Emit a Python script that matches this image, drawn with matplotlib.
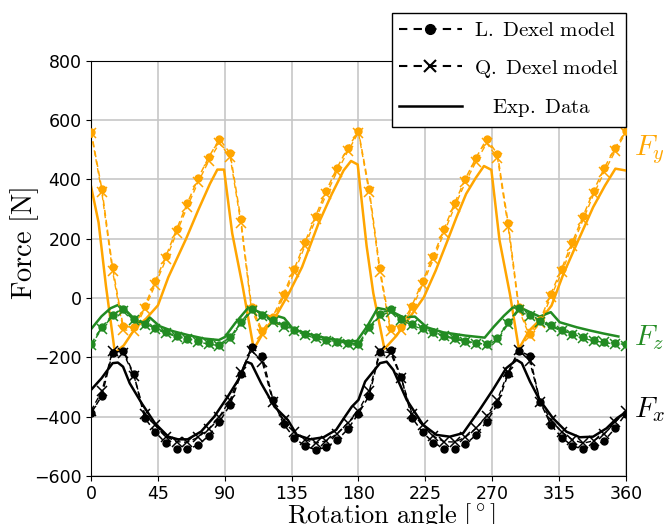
import numpy as np
import matplotlib
matplotlib.use("Agg")
import matplotlib.pyplot as plt
from matplotlib.lines import Line2D

plt.rcParams['mathtext.fontset'] = 'cm'

# ---------------- data ----------------
angle_model = np.linspace(0, 360, 51)   # 7.2 deg step

fy_L = [561, 368, 104, -96, -99, -28, 56, 141, 232, 320, 403, 475, 536,
        488, 266, -30, -110, -63, 14, 98, 188, 277, 362, 439, 506, 562,
        368, 100, -102, -98, -26, 56, 141, 232, 320, 402, 473, 537,
        485, 252, -30, -120, -74, 14, 98, 188, 275, 362, 439, 506, 562]
fy_Q = [558, 356, 92, -108, -110, -38, 45, 130, 220, 308, 390, 462, 522,
        476, 254, -40, -120, -73, 4, 86, 176, 265, 350, 426, 494, 558,
        356, 88, -112, -108, -36, 45, 130, 220, 308, 390, 460, 522,
        473, 240, -40, -128, -84, 4, 86, 176, 263, 350, 426, 494, 558]

fz_L = [-155, -99, -56, -37, -71, -88, -101, -116, -128, -137, -145, -153, -158,
        -133, -82, -37, -56, -76, -93, -108, -122, -133, -142, -147, -153, -155,
        -99, -55, -39, -71, -88, -102, -116, -127, -136, -144, -153, -156,
        -136, -82, -35, -58, -77, -93, -108, -122, -133, -142, -147, -153, -157]
fz_Q = [-160, -104, -62, -44, -74, -92, -105, -119, -131, -140, -148, -156, -161,
        -138, -88, -44, -60, -80, -97, -111, -125, -136, -145, -150, -156, -160,
        -104, -61, -46, -74, -92, -106, -119, -130, -139, -147, -156, -159,
        -141, -88, -42, -62, -81, -97, -111, -125, -136, -145, -150, -156, -161]

fx_L = [-389, -330, -185, -178, -258, -404, -453, -490, -509, -511, -496, -465, -418,
        -360, -257, -165, -197, -343, -426, -472, -500, -512, -504, -480, -443, -390,
        -330, -183, -174, -268, -404, -453, -488, -508, -509, -494, -462, -417,
        -359, -256, -178, -195, -352, -428, -471, -499, -510, -501, -481, -440, -391]
fx_Q = [-380, -315, -180, -185, -262, -390, -430, -468, -485, -487, -470, -442, -400,
        -345, -250, -178, -215, -350, -412, -452, -478, -490, -482, -458, -422, -380,
        -315, -180, -185, -270, -390, -430, -466, -485, -486, -470, -440, -398,
        -343, -250, -176, -212, -350, -412, -452, -478, -490, -482, -458, -420, -380]

angle_exp_y = [0, 5, 10, 16, 22, 30, 37, 45, 52, 64, 72, 80, 85, 89.5, 95, 102, 109.5,
               117, 124, 133, 142, 153, 162, 170, 175, 179.5, 185.5, 190, 197.5, 205.5,
               215, 224, 232, 240, 246, 252.5, 259, 264.5, 269.5, 275, 282, 288, 295,
               304, 310, 318, 328, 338, 346, 353, 360]
fy_exp = [375, 255, 40, -185, -160, -100, -70, -25, 70, 200, 295, 385, 433, 433, 218, 40,
          -172, -108, -65, 14, 104, 250, 350, 430, 462, 450, 175, 16, -172, -128, -62, 2,
          92, 194, 272, 351, 405, 445, 432, 194, 13, -172, -110, -65, -26, 81, 194, 306,
          379, 436, 430]

angle_exp_z = [0, 7, 13, 18, 23, 30, 36, 39.5, 46, 55, 65, 76, 86, 90, 97, 106, 112, 121,
               126, 130, 136, 145, 156, 165, 173, 179, 186, 193, 201, 210, 218, 226, 237,
               252, 265, 271, 278, 284, 290, 302, 309.5, 315.5, 327, 336, 345, 355]
fz_exp = [-105, -62, -35, -24, -40, -75, -85, -66, -95, -112, -125, -137, -142, -132, -85,
          -32, -45, -65, -62, -68, -105, -120, -133, -141, -148, -145, -95, -34, -42, -65,
          -63, -99, -116, -127, -134, -98, -60, -32, -35, -63, -48, -82, -99, -110, -120,
          -130]

angle_exp_x = [0, 7, 14.5, 18, 21.5, 26, 34, 43, 52, 58.5, 65, 74, 83, 92, 99, 104.5, 108,
               114.5, 123.5, 132.5, 138.5, 147.5, 156.5, 165, 171, 175.5, 180, 184.5, 194.5,
               199, 203.5, 212.5, 223.5, 232.5, 241.5, 250.5, 261.5, 270.5, 279.5, 286.5,
               290, 295.5, 302, 311, 320, 329, 338, 347, 354, 359.5]
fx_exp = [-310, -271, -220, -218, -232, -288, -355, -423, -468, -477, -477, -451, -400, -333,
          -277, -215, -222, -288, -367, -412, -462, -477, -470, -445, -400, -367, -344, -282,
          -220, -215, -243, -344, -428, -462, -468, -456, -378, -310, -237, -209, -220, -282,
          -344, -406, -451, -470, -468, -440, -406, -387]

x_ticks = [0, 45, 90, 135, 180, 225, 270, 315, 360]
y_ticks = [-600, -400, -200, 0, 200, 400, 600, 800]

C_Y = '#FFA500'
C_Z = '#228B22'
C_X = 'black'

# ---------------- plot ----------------
fig = plt.figure(figsize=(6.7, 5.24), dpi=100)
ax = fig.add_axes([0.136, 0.092, 0.798, 0.792])

dash = (4, 2.5)
for col, L, Q, ae, e in [(C_Y, fy_L, fy_Q, angle_exp_y, fy_exp),
                         (C_Z, fz_L, fz_Q, angle_exp_z, fz_exp),
                         (C_X, fx_L, fx_Q, angle_exp_x, fx_exp)]:
    ax.plot(angle_model, L, color=col, linestyle='--', dashes=dash, lw=1.1,
            marker='o', markersize=5, zorder=3)
    ax.plot(angle_model, Q, color=col, linestyle='--', dashes=dash, lw=1.0,
            marker='x', markersize=7, markeredgewidth=1.1, zorder=3)
    ax.plot(ae, e, color=col, linestyle='-', lw=1.8, zorder=2)

ax.set_xlim(0, 360)
ax.set_ylim(-600, 800)
ax.set_xticks(x_ticks)
ax.set_yticks(y_ticks)
ax.tick_params(labelsize=12.5)
ax.tick_params(axis='x', pad=3)
ax.grid(True, color='0.78', lw=1.2)
ax.set_axisbelow(True)

ax.set_xlabel(r'$\mathrm{Rotation\ angle\ [^\circ]}$', fontsize=19)
ax.set_ylabel(r'$\mathrm{Force\ [N]}$', fontsize=20.5)
ax.xaxis.set_label_coords(0.561, -0.061)
ax.yaxis.set_label_coords(-0.094, 0.56)

ax.text(376, 500, r'$F_y$', color=C_Y, fontsize=21, ha='center', va='center', clip_on=False)
ax.text(376, -135, r'$F_z$', color=C_Z, fontsize=21, ha='center', va='center', clip_on=False)
ax.text(376, -378, r'$F_x$', color=C_X, fontsize=21, ha='center', va='center', clip_on=False)

handles = [
    Line2D([], [], color='black', linestyle='--', dashes=(4, 3), lw=1.5, marker='o', markersize=7),
    Line2D([], [], color='black', linestyle='--', dashes=(4, 3), lw=1.5, marker='x', markersize=9,
           markeredgewidth=1.5),
    Line2D([], [], color='black', linestyle='-', lw=1.8),
]
labels = [r'$\mathrm{L.\ Dexel\ model}$', r'$\mathrm{Q.\ Dexel\ model}$',
          r'$\mathrm{\ \ \ Exp.\ Data}$']
leg = ax.legend(handles, labels, loc='upper right', bbox_to_anchor=(1.001, 1.116),
                fontsize=15, frameon=True, fancybox=False, edgecolor='black',
                framealpha=1, handlelength=3.0, borderaxespad=0, labelspacing=0.85,
                borderpad=0.35, handletextpad=0.6)
leg.get_frame().set_linewidth(1.0)

fig.savefig('out.png', dpi=100)
